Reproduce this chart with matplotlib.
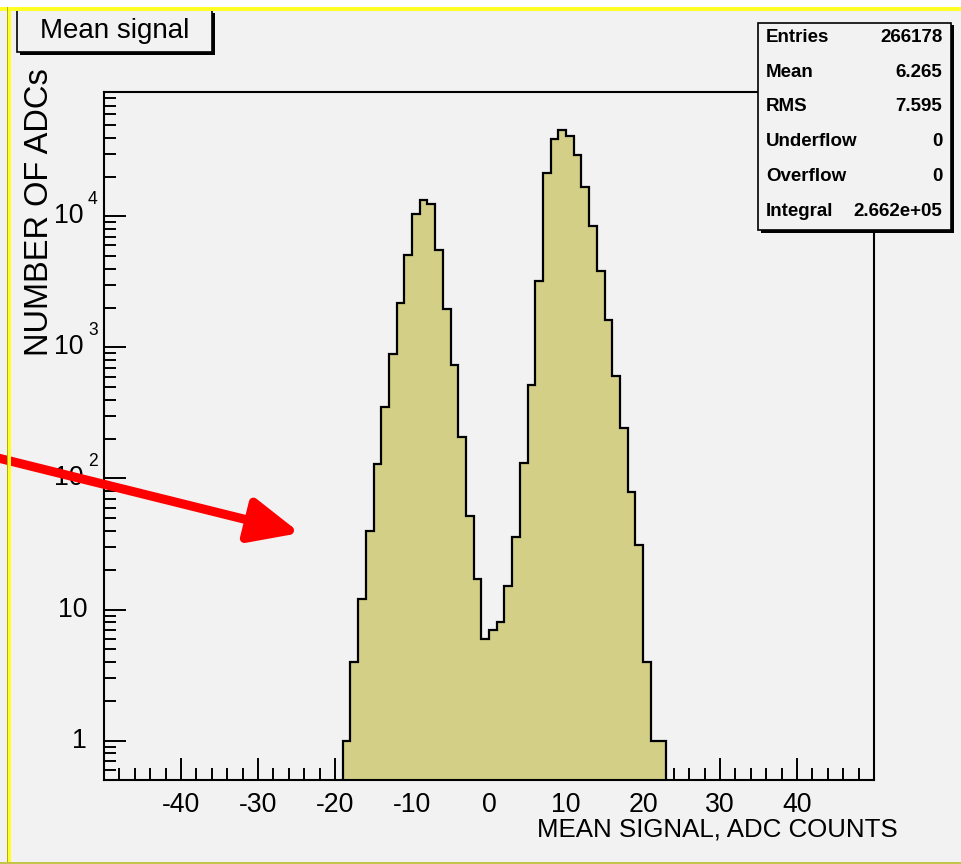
import numpy as np
import matplotlib
matplotlib.use("Agg")
import matplotlib.pyplot as plt
from matplotlib import font_manager, transforms
from matplotlib.patches import Rectangle, FancyArrowPatch
from matplotlib.ticker import FixedLocator, LogLocator, NullFormatter

# per-bin counts, unit-width bins starting at -19
counts = [1, 4, 12, 40, 130, 351, 891, 2200, 5120, 10350, 13400, 12500,
          5560, 1970, 729, 206, 52, 17, 6, 7, 8, 15, 36, 131, 514, 3230,
          21400, 39300, 46000, 40800, 29200, 16900, 8510, 3810, 1630, 601,
          241, 79, 31, 4, 1, 1]
edges = np.arange(-19, -19 + len(counts) + 1)

x_major = [-40, -30, -20, -10, 0, 10, 20, 30, 40]
x_labels = ["-40", "-30", "-20", "-10", "0", "10", "20", "30", "40"]
decades = [1, 10, 100, 1000, 10000]

stat_names = ["Entries", "Mean", "RMS", "Underflow", "Overflow", "Integral"]
stat_values = ["266178", "6.265", "7.595", "0", "0", "2.662e+05"]

W, H = 961, 864
bg = "#f2f2f2"
fill_c = "#d3cf86"

names = {f.name for f in font_manager.fontManager.ttflist}
narrow = "Liberation Sans Narrow" if "Liberation Sans Narrow" in names else "Liberation Sans"
regular = "Liberation Sans"
fam = [narrow, "DejaVu Sans"]
# the narrow face fits more text in the same width
k = 1.0 if narrow == "Liberation Sans Narrow" else 0.87


def fx(px):
    return px / W


def fy(py):
    return 1 - py / H


fig = plt.figure(figsize=(W / 100, H / 100), dpi=100, facecolor=bg)
ax = fig.add_axes([fx(104), fy(780), (874 - 104) / W, (780 - 92) / H], facecolor=bg)

# histogram: filled area plus black outline
ax.stairs(counts, edges, baseline=0.01, fill=True, color=fill_c, zorder=2)
ax.stairs(counts, edges, baseline=0.01, color="black", lw=1.6, zorder=3)

ax.set_yscale("log")
ax.set_xlim(-50, 50)
ax.set_ylim(0.5, 8.9e4)

for s in ax.spines.values():
    s.set_linewidth(1.5)

ax.set_xticks(x_major)
ax.set_xticklabels(x_labels, fontsize=22 * k, family=fam)
ax.set_xticks(np.arange(-48, 49, 2), minor=True)

ax.yaxis.set_major_locator(FixedLocator(decades))
ax.yaxis.set_major_formatter(NullFormatter())
ax.yaxis.set_minor_locator(LogLocator(base=10, subs=np.arange(2, 10), numticks=20))
ax.yaxis.set_minor_formatter(NullFormatter())

ax.tick_params(which="both", direction="in", top=False, right=False, width=1.4)
ax.tick_params(which="major", length=15.5)
ax.tick_params(which="minor", length=8.5)
ax.tick_params(axis="x", which="major", pad=9)

# y labels drawn as ROOT does: "10" with a raised exponent
ytr = ax.get_yaxis_transform()
for d in decades:
    e = int(round(np.log10(d)))
    if e < 2:
        t = transforms.offset_copy(ytr, fig=fig, x=-17, y=0, units="dots")
        ax.text(0, d, str(d), transform=t, ha="right", va="center",
                fontsize=22 * k, family=fam)
    else:
        t = transforms.offset_copy(ytr, fig=fig, x=-20, y=0, units="dots")
        ax.text(0, d, "10", transform=t, ha="right", va="center",
                fontsize=22 * k, family=fam)
        t2 = transforms.offset_copy(ytr, fig=fig, x=-16, y=17, units="dots")
        ax.text(0, d, str(e), transform=t2, ha="left", va="center",
                fontsize=14.5 * k, family=fam)

fig.text(fx(898), fy(830), "MEAN SIGNAL, ADC COUNTS", ha="right", va="center",
         fontsize=22.5 * k * 0.95, family=fam)
fig.text(fx(40), fy(68), "NUMBER OF ADCs", rotation=90, ha="center", va="top",
         fontsize=23.5, family=[regular, "DejaVu Sans"])

# title box with shadow
tx0, ty0, tx1, ty1 = 17, 10, 212, 52
fig.patches.append(Rectangle((fx(tx0 + 3), fy(ty1 + 3)), (tx1 - tx0) / W, (ty1 - ty0) / H,
                             transform=fig.transFigure, fc="black", ec="none", zorder=4))
fig.patches.append(Rectangle((fx(tx0), fy(ty1)), (tx1 - tx0) / W, (ty1 - ty0) / H,
                             transform=fig.transFigure, fc=bg, ec="black", lw=1.2, zorder=5))
fig.text(fx((tx0 + tx1) / 2), fy(31), "Mean signal", ha="center", va="center",
         fontsize=23 * k, family=fam, zorder=6)

# statistics box with shadow
sx0, sy0, sx1, sy1 = 757.5, 22.5, 950.5, 230
fig.patches.append(Rectangle((fx(sx0 + 3), fy(sy1 + 3)), (sx1 - sx0) / W, (sy1 - sy0) / H,
                             transform=fig.transFigure, fc="black", ec="none", zorder=4))
fig.patches.append(Rectangle((fx(sx0), fy(sy1)), (sx1 - sx0) / W, (sy1 - sy0) / H,
                             transform=fig.transFigure, fc=bg, ec="black", lw=1.2, zorder=5))
for i, (n, v) in enumerate(zip(stat_names, stat_values)):
    yy = 37.5 + i * 34.7
    fig.text(fx(766), fy(yy), n, ha="left", va="center", fontsize=15.5 * k,
             fontweight="bold", family=fam, zorder=6)
    fig.text(fx(942.5), fy(yy), v, ha="right", va="center", fontsize=15.5 * k,
             fontweight="bold", family=fam, zorder=6)

# red arrow pointing into the plot
arrow = FancyArrowPatch((fx(-10), fy(456)), (fx(300), fy(533)),
                        transform=fig.transFigure,
                        arrowstyle="-|>,head_length=1.0,head_width=0.45",
                        mutation_scale=30, lw=6.5, color="#ff0000",
                        shrinkA=0, shrinkB=0, zorder=8)
fig.patches.append(arrow)

# canvas border strips
fig.patches.append(Rectangle((0, fy(7)), 1, 7 / H, transform=fig.transFigure,
                             fc="white", ec="none", zorder=9))
fig.patches.append(Rectangle((0, fy(11)), 1, 4 / H, transform=fig.transFigure,
                             fc="#ffff26", ec="none", zorder=9))
fig.patches.append(Rectangle((fx(7), fy(862)), 1 / W, 855 / H, transform=fig.transFigure,
                             fc="#b0b000", ec="none", zorder=9))
fig.patches.append(Rectangle((fx(8), fy(862)), 3 / W, 855 / H, transform=fig.transFigure,
                             fc="#ffff26", ec="none", zorder=9))
fig.patches.append(Rectangle((0, 0), 1, 2.5 / H, transform=fig.transFigure,
                             fc="#c4c44a", ec="none", zorder=9))

fig.savefig("out.png", dpi=100, facecolor=bg)
